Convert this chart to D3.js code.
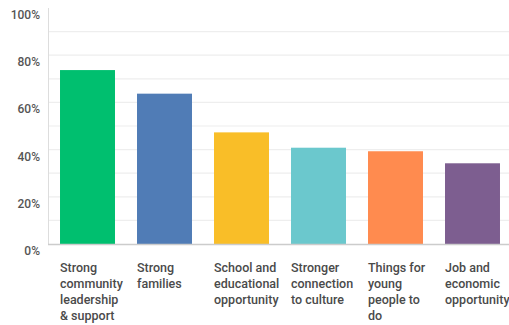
<!DOCTYPE html>
<html>
<head>
<meta charset="utf-8">
<script src="https://cdn.jsdelivr.net/npm/d3@7"></script>
<style>
  body { margin: 0; background: #fff; }
  svg { display: block; }
  .ylab { font-family: Roboto, 'Open Sans', sans-serif; font-size: 12px; font-weight: 500; fill: #555; }
  .xlab { font-family: Roboto, 'Open Sans', sans-serif; font-size: 12.5px; font-weight: 500; fill: #4a4a4a; }
</style>
</head>
<body>
<div id="graf"></div>
<script>
// datos
categorias = [
  ['Strong', 'community', 'leadership', '& support'],
  ['Strong', 'families'],
  ['School and', 'educational', 'opportunity'],
  ['Stronger', 'connection', 'to culture'],
  ['Things for', 'young', 'people to', 'do'],
  ['Job and', 'economic', 'opportunity']
]
valores = [73.7, 63.7, 47.3, 40.8, 39.3, 34.2]
colores = ['#00BF6F', '#507CB6', '#F9BE28', '#6BC8CD', '#FF8B4F', '#7D5E90']
ticksY = [0, 20, 40, 60, 80, 100]
gridY = [10, 20, 30, 40, 50, 60, 70, 80, 90]

ancho_total = 509
alto_total = 325

svg = d3.select('#graf').append('svg')
        .attr('width', ancho_total)
        .attr('height', alto_total)

y = d3.scaleLinear()
      .domain([0, 100])
      .range([244, 8])

x = d3.scaleBand()
      .domain(d3.range(valores.length))
      .range([48, 512])
      .paddingInner(0.286)
      .paddingOuter(0.156)

// lineas de la grilla
svg.append('g')
   .selectAll('line')
   .data(gridY)
   .enter()
   .append('line')
     .attr('x1', 48)
     .attr('x2', ancho_total)
     .attr('y1', d => y(d))
     .attr('y2', d => y(d))
     .attr('stroke', '#eeeeee')
     .attr('stroke-width', 1.2)

// eje vertical
svg.append('line')
   .attr('x1', 48.5).attr('x2', 48.5)
   .attr('y1', y(100)).attr('y2', y(0))
   .attr('stroke', '#dddddd')

// barras
svg.append('g')
   .selectAll('rect')
   .data(valores)
   .enter()
   .append('rect')
     .attr('x', (d, i) => x(i))
     .attr('y', d => y(d))
     .attr('width', x.bandwidth())
     .attr('height', d => y(0) - y(d))
     .attr('fill', (d, i) => colores[i])

// linea base
svg.append('line')
   .attr('x1', 48).attr('x2', ancho_total)
   .attr('y1', y(0) + 0.5).attr('y2', y(0) + 0.5)
   .attr('stroke', '#cccccc')
   .attr('stroke-width', 1.5)

// etiquetas eje y
svg.append('g')
   .selectAll('text')
   .data(ticksY)
   .enter()
   .append('text')
     .attr('class', 'ylab')
     .attr('x', 40)
     .attr('y', d => y(d) + 11)
     .attr('text-anchor', 'end')
     .text(d => d + '%')

// etiquetas eje x
etiquetas = svg.append('g')
   .selectAll('text')
   .data(categorias)
   .enter()
   .append('text')
     .attr('class', 'xlab')
     .attr('x', (d, i) => x(i))
     .attr('y', 272)

etiquetas.selectAll('tspan')
   .data(d => d)
   .enter()
   .append('tspan')
     .attr('x', function() { return d3.select(this.parentNode).attr('x') })
     .attr('dy', (d, i) => i == 0 ? 0 : 16)
     .text(d => d)
</script>
</body>
</html>
